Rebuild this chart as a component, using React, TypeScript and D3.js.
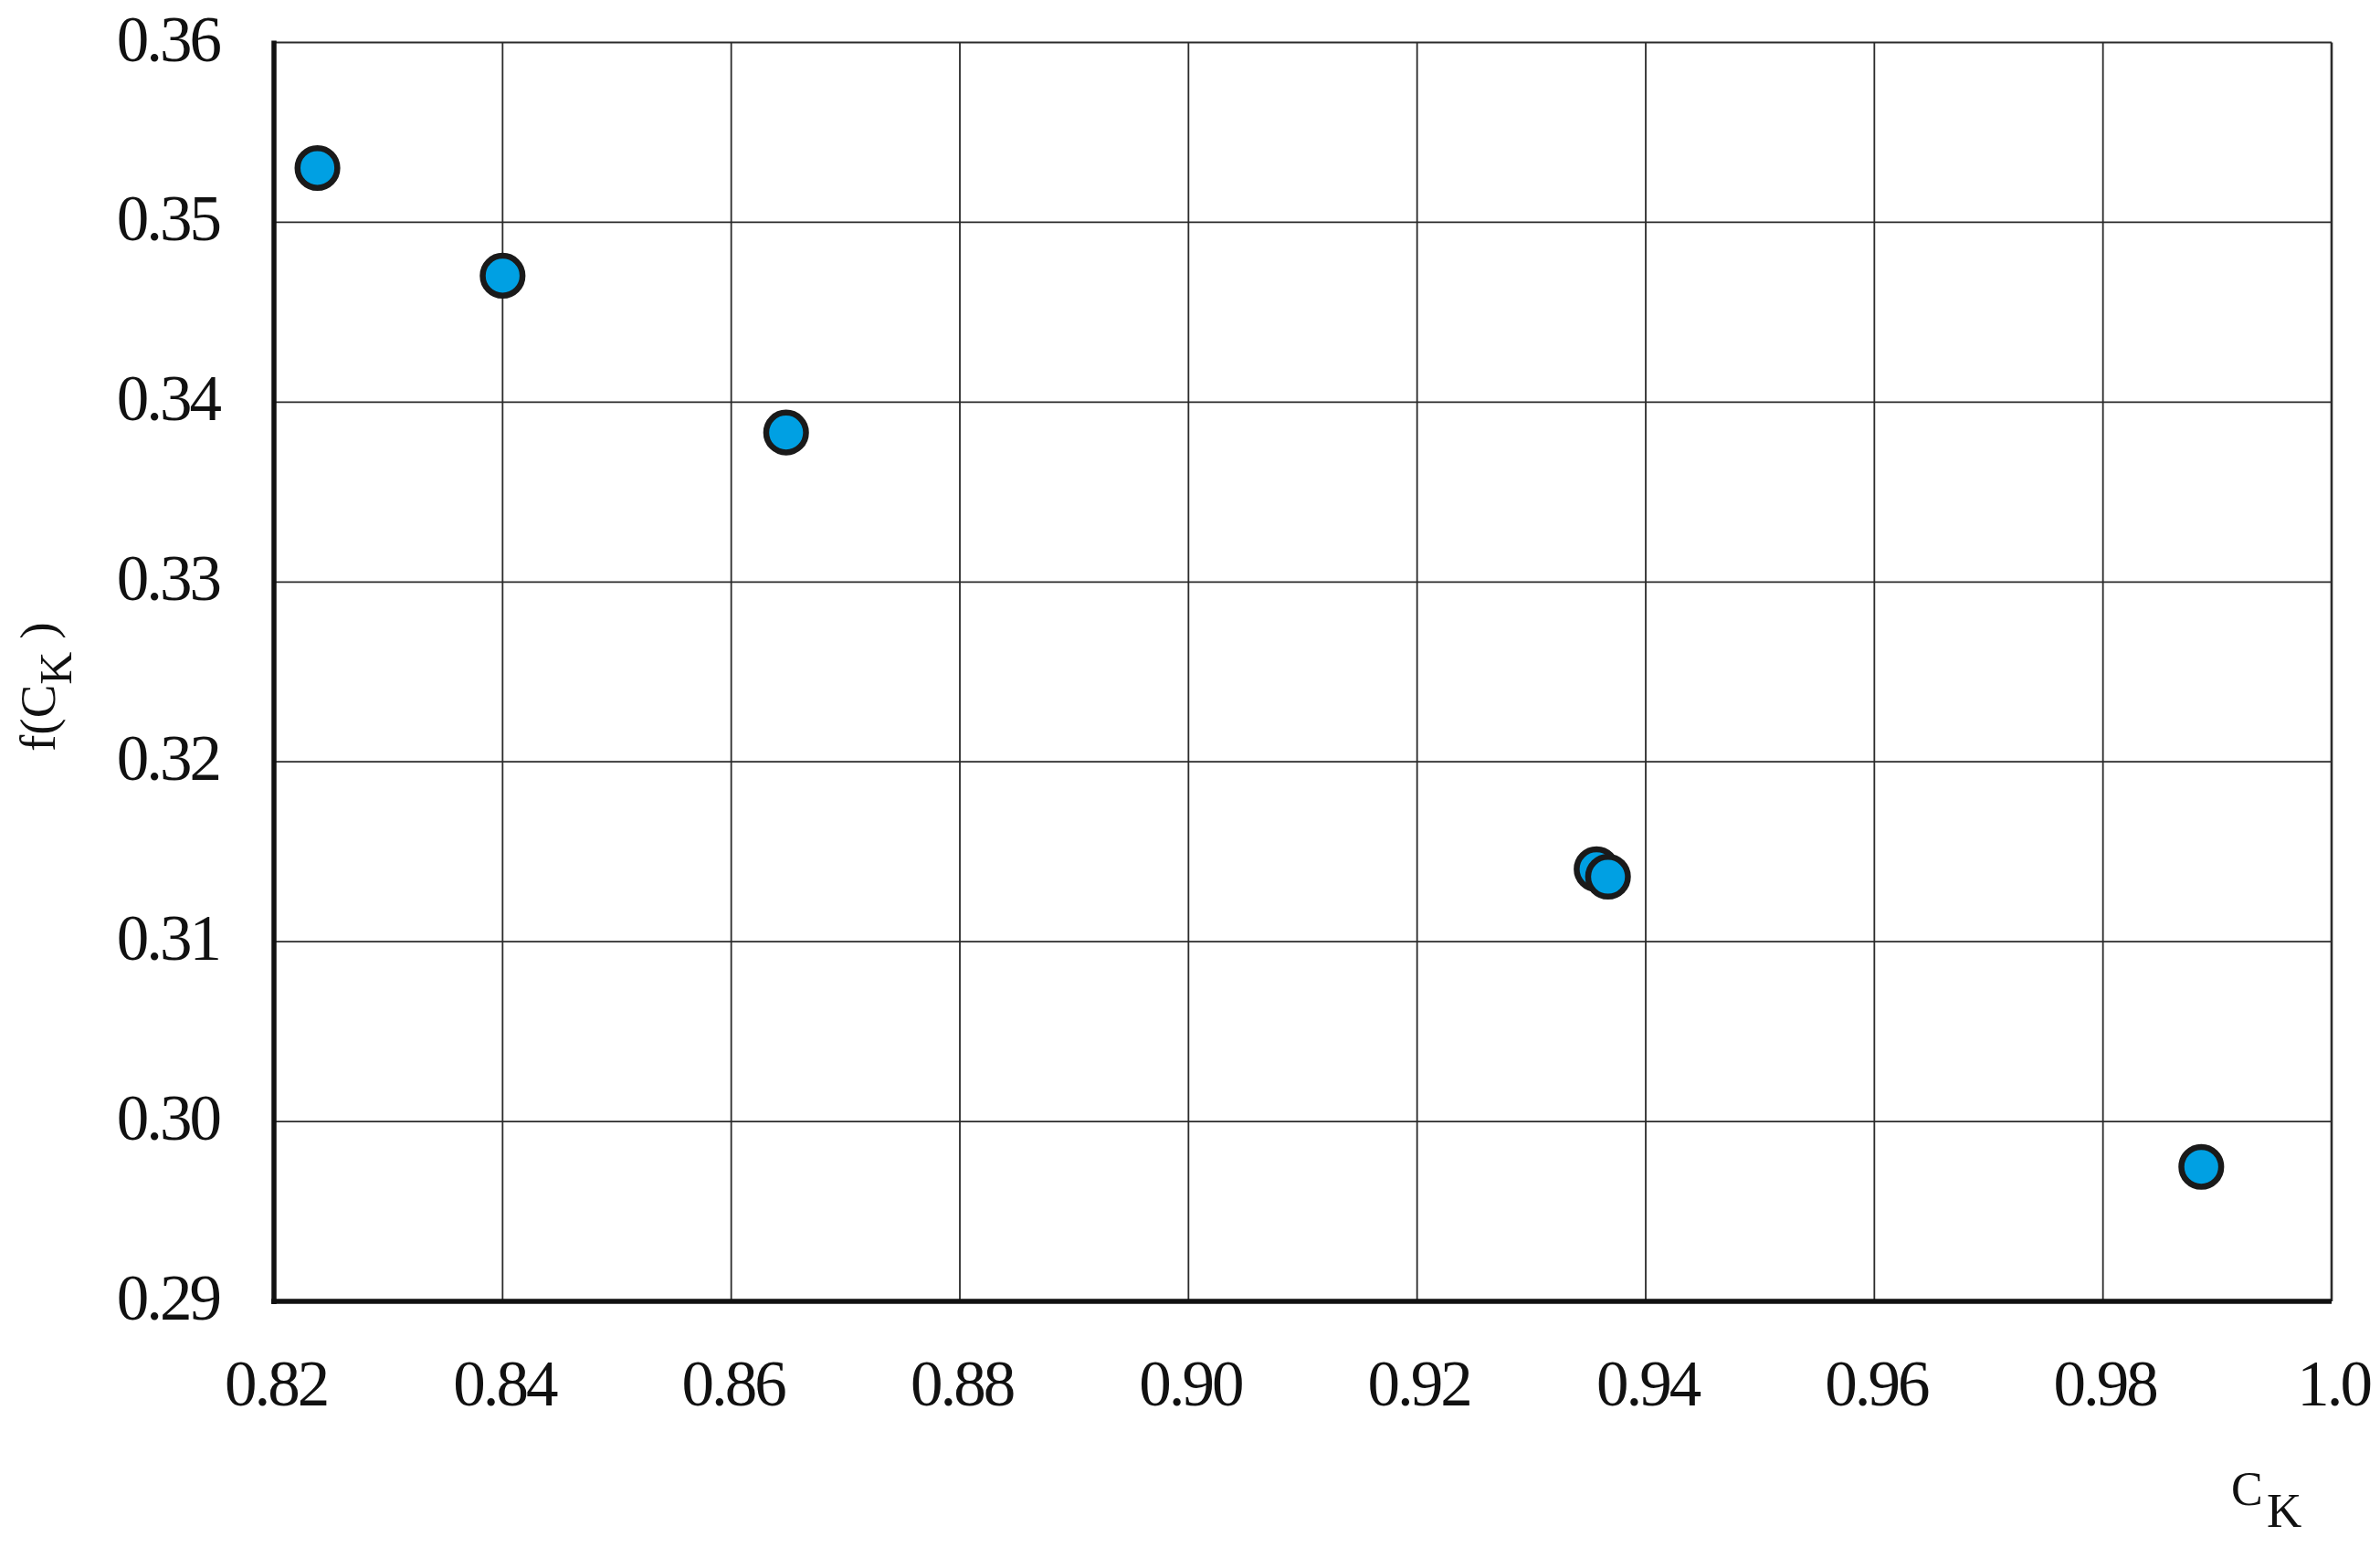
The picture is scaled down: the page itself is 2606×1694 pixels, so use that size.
import React from "react";
import * as d3 from "d3";

const ckValues = [0.8238, 0.84, 0.8648, 0.9357, 0.9367, 0.9886];
const fValues = [0.35302, 0.34703, 0.33831, 0.31403, 0.31361, 0.29748];
const xTicks = [0.82, 0.84, 0.86, 0.88, 0.9, 0.92, 0.94, 0.96, 0.98, 1.0];
const xTickLabels = ["0.82", "0.84", "0.86", "0.88", "0.90", "0.92", "0.94", "0.96", "0.98", "1.0"];
const yTicks = [0.29, 0.3, 0.31, 0.32, 0.33, 0.34, 0.35, 0.36];
const yTickLabels = ["0.29", "0.30", "0.31", "0.32", "0.33", "0.34", "0.35", "0.36"];

const W = 2606;
const H = 1694;
const L = 300, R = 2553, T = 46.5, B = 1425;

export default function App() {
  const x = d3.scaleLinear().domain([0.82, 1.0]).range([L, R]);
  const y = d3.scaleLinear().domain([0.29, 0.36]).range([B, T]);
  const font = "'Liberation Serif', 'Times New Roman', serif";
  const gridColor = "#2b2b2b";
  return (
    <svg width={W} height={H} style={{ position: "absolute", left: 0, top: 0, background: "#fff" }}>
      <rect x={0} y={0} width={W} height={H} fill="#fff" />
      {xTicks.slice(1).map((t) => (
        <line key={"gx" + t} x1={x(t)} x2={x(t)} y1={T} y2={B} stroke={gridColor} strokeWidth={t === 1.0 ? 2.6 : 1.8} />
      ))}
      {yTicks.slice(1).map((t) => (
        <line key={"gy" + t} x1={L} x2={R} y1={y(t)} y2={y(t)} stroke={gridColor} strokeWidth={t === 0.36 ? 2.2 : 1.8} />
      ))}
      <line x1={L} x2={L} y1={T - 2} y2={B + 3} stroke="#111" strokeWidth={5.5} />
      <line x1={L - 3} x2={R} y1={B} y2={B} stroke="#111" strokeWidth={5.5} />
      {yTicks.map((t, i) => (
        <text key={"yl" + t} x={240} y={y(t) + 20} textAnchor="end" fontFamily={font} fontSize={71} letterSpacing={-3} fill="#111">
          {yTickLabels[i]}
        </text>
      ))}
      {xTicks.map((t, i) => (
        <text key={"xl" + t} x={x(t) + 2} y={1539} textAnchor="middle" fontFamily={font} fontSize={71} letterSpacing={-3} fill="#111">
          {xTickLabels[i]}
        </text>
      ))}
      <text x={2443} y={1648} fontFamily={font} fontSize={52} fill="#111">
        C
        <tspan x={2482} y={1672} fontSize={53}>K</tspan>
      </text>
      <g transform="translate(60,823) rotate(-90)">
        <text x={0} y={0} fontFamily={font} fontSize={55} fill="#111">
          f(C
          <tspan dy={18} fontSize={50}>K</tspan>
          <tspan dy={-18} fontSize={55}>{"\u00a0)"}</tspan>
        </text>
      </g>
      {ckValues.map((c, i) => (
        <circle key={"p" + i} cx={x(c)} cy={y(fValues[i])} r={21.8} fill="#00A0E3" stroke="#1a1a1a" strokeWidth={6.5} />
      ))}
    </svg>
  );
}
